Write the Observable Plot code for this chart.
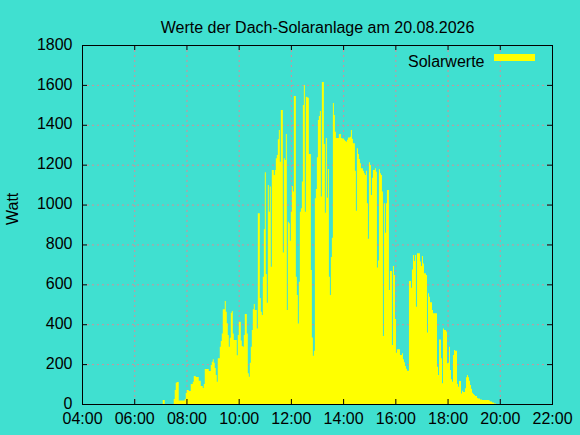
<!DOCTYPE html>
<html>
<head>
<meta charset="utf-8">
<script src="https://cdn.jsdelivr.net/npm/d3@7"></script>
<script src="https://cdn.jsdelivr.net/npm/@observablehq/plot@0.6"></script>
<style>
  html, body { margin: 0; padding: 0; background: #40E0D0; overflow: hidden; }
</style>
</head>
<body>
<div id="chart"></div>
<script>
// ---- Data ----
const title = "Werte der Dach-Solaranlage am 20.08.2026";
const yLabel = "Watt";
const seriesName = "Solarwerte";
const xTicks = [4, 6, 8, 10, 12, 14, 16, 18, 20, 22];
const xTickLabels = ["04:00", "06:00", "08:00", "10:00", "12:00", "14:00", "16:00", "18:00", "20:00", "22:00"];
const yTicks = [0, 200, 400, 600, 800, 1000, 1200, 1400, 1600, 1800];
// sampling: first sample at 06:58:36, one sample every 2.3 minutes
const startMinutes = 418.6;
const stepMinutes = 2.3;
const watt = [
  0,0,0,20,20,0,0,0,0,0,
  0,0,0,0,25,70,107,110,110,17,
  17,17,17,17,17,25,55,70,70,65,
  65,100,100,112,140,140,135,135,135,117,
  117,90,90,80,100,175,175,175,175,165,
  165,195,212,225,207,180,145,112,230,230,
  287,316,354,475,475,516,463,405,346,287,
  332,458,466,354,321,321,321,244,346,413,
  413,318,291,287,346,451,451,354,154,137,
  207,287,371,475,501,471,471,378,956,956,
  531,463,446,638,876,1162,652,508,1098,964,
  1090,688,1173,1173,1148,1173,1232,1248,1327,1374,
  1215,1474,1474,759,1232,1223,1354,471,914,906,
  819,964,1093,1065,1544,1544,638,547,404,613,
  964,981,1115,1499,1600,964,1541,1538,1536,1254,
  1254,672,333,242,267,1031,1078,1237,1424,1444,
  1469,1040,1614,1614,1304,959,1334,1034,1178,638,
  547,737,834,1509,1449,1365,1334,1334,1334,1354,
  1354,1334,1331,1331,1325,1319,1315,1325,1336,1336,
  1340,1374,1330,1307,1307,1170,969,1282,1254,1228,
  1207,1182,1182,1170,1157,1148,1170,1006,829,1212,
  1198,1048,1135,1173,1173,1182,1165,684,719,1177,
  1157,1148,1065,341,1006,859,1006,1073,1073,572,
  667,667,296,692,647,426,257,274,274,274,
  246,246,254,224,209,191,177,167,167,617,
  617,583,675,747,717,747,488,756,756,756,
  714,692,742,705,655,655,647,358,555,538,
  510,510,471,455,455,455,455,187,145,324,
  324,229,104,379,371,371,363,204,207,287,
  170,124,112,246,271,267,267,100,87,115,
  115,53,67,60,60,79,134,145,134,117,
  95,77,57,50,45,40,40,30,28,28,
  23,23,20,20,20,20,20,20,20,17,
  12,12,7,7,3,3
];

// ---- Table ----
const data = watt.map((v, i) => ({t: (startMinutes + i * stepMinutes) / 60, v}));
data.push({t: (startMinutes + watt.length * stepMinutes) / 60, v: 0});

const W = 580, H = 435;
const mL = 82, mR = 28, mT = 45, mB = 31;
const xDom = [4, 22], yDom = [0, 1800];
const pxX = (xDom[1] - xDom[0]) / (W - mL - mR);
const pxY = (yDom[1] - yDom[0]) / (H - mT - mB);
const tick = 5;
const gridColor = "#d0909a";

const chart = Plot.plot({
  width: W,
  height: H,
  marginLeft: mL,
  marginRight: mR,
  marginTop: mT,
  marginBottom: mB,
  style: {background: "#40E0D0", fontFamily: "'Liberation Sans', Arial, sans-serif", fontSize: "16px", color: "black"},
  x: {domain: xDom},
  y: {domain: yDom},
  marks: [
    Plot.gridX(xTicks, {stroke: gridColor, strokeOpacity: 1, strokeDasharray: "2,3"}),
    Plot.gridY(yTicks, {stroke: gridColor, strokeOpacity: 1, strokeDasharray: "2,3"}),
    Plot.areaY(data, {x: "t", y: "v", curve: "step-after", fill: "yellow"}),
    Plot.axisX(xTicks, {tickSize: 0, tickPadding: 8, tickFormat: d => xTickLabels[xTicks.indexOf(d)], label: null, fontSize: 16}),
    Plot.axisY(yTicks, {tickSize: 0, tickPadding: 10, tickFormat: d => String(d), label: null, fontSize: 16, dy: -1}),
    // inward ticks, mirrored
    Plot.ruleX(xTicks, {x: d => d, y1: yDom[0], y2: yDom[0] + tick * pxY, stroke: "black"}),
    Plot.ruleX(xTicks, {x: d => d, y1: yDom[1], y2: yDom[1] - tick * pxY, stroke: "black"}),
    Plot.ruleY(yTicks, {y: d => d, x1: xDom[0], x2: xDom[0] + tick * pxX, stroke: "black"}),
    Plot.ruleY(yTicks, {y: d => d, x1: xDom[1], x2: xDom[1] - tick * pxX, stroke: "black"}),
    Plot.frame({stroke: "black"}),
    Plot.text([title], {frameAnchor: "top", dy: -23.4, fontSize: 16, fill: "black"}),
    Plot.text([yLabel], {frameAnchor: "left", rotate: -90, dx: -70, fontSize: 16, fill: "black"}),
    Plot.text([seriesName], {frameAnchor: "top-right", textAnchor: "end", dx: -68, dy: 10.6, fontSize: 16, fill: "black"})
  ]
});

// legend swatch
d3.select(chart).append("rect")
  .attr("x", 494).attr("y", 54).attr("width", 41).attr("height", 7)
  .attr("fill", "yellow");

document.getElementById("chart").appendChild(chart);
</script>
</body>
</html>
